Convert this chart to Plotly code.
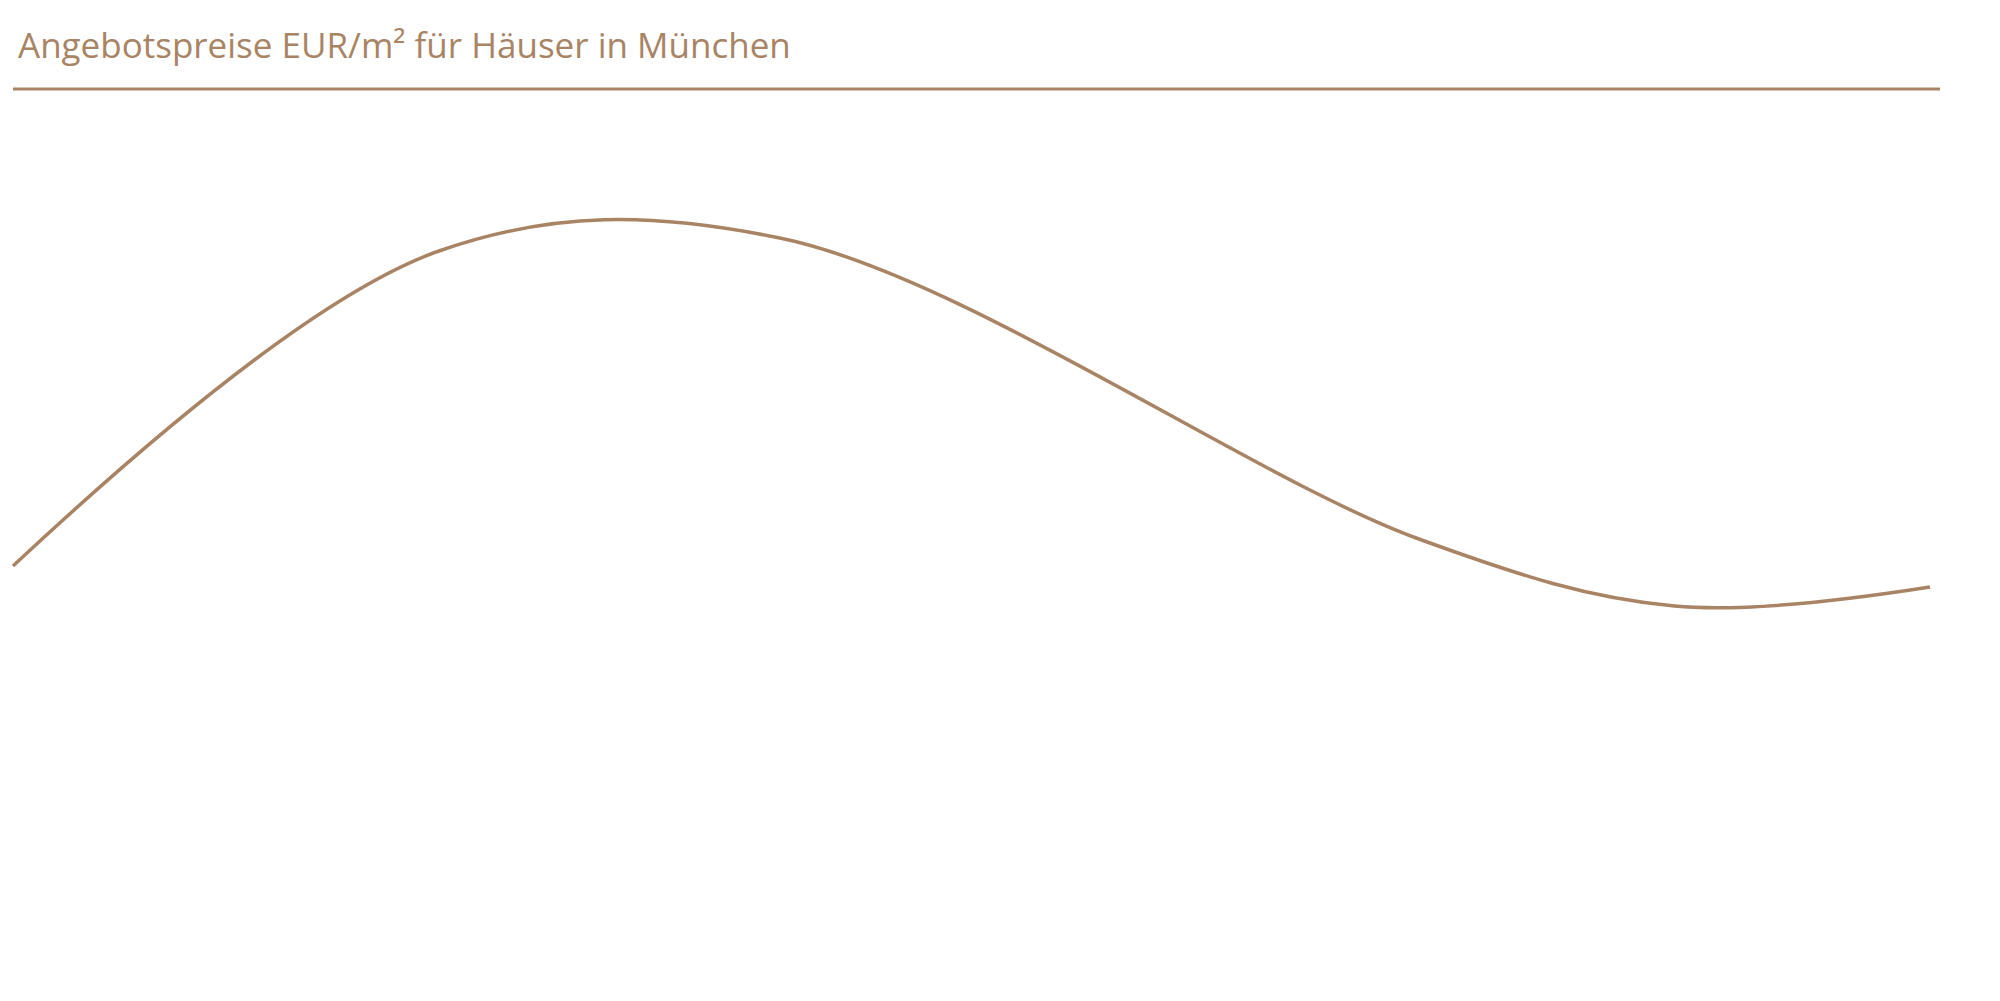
import plotly.graph_objects as go

# Quartale seit Beginn der Reihe, Angebotspreise in EUR/m²
quartal = [0, 10, 18, 33, 39, 45]
preis = [8720, 11870, 12000, 8990, 8320, 8510]

farbe = "#a88464"

fig = go.Figure()
fig.add_trace(go.Scatter(
    x=quartal, y=preis, mode="lines",
    line=dict(color=farbe, width=3.5, shape="spline", smoothing=1.0),
    hoverinfo="skip", showlegend=False
))

fig.update_layout(
    width=2000, height=1001,
    margin=dict(l=0, r=0, t=0, b=0),
    paper_bgcolor="white", plot_bgcolor="white",
    xaxis=dict(visible=False, range=[-0.117, 46.83]),
    yaxis=dict(visible=False, range=[4290, 14300]),
    annotations=[dict(
        text="Angebotspreise EUR/m² für Häuser in München",
        x=8, y=1001 - 60, xref="paper", yref="paper",
        xanchor="left", yanchor="bottom", showarrow=False,
        font=dict(family="Open Sans", size=35, color=farbe)
    )],
    shapes=[dict(
        type="line", xref="paper", yref="paper",
        x0=5 / 2000, x1=1932 / 2000, y0=1 - 81 / 1001, y1=1 - 81 / 1001,
        line=dict(color=farbe, width=3)
    )]
)
# annotation position in paper coords
fig.layout.annotations[0].x = 8 / 2000
fig.layout.annotations[0].y = 1 - 62 / 1001

fig.write_html("out.html")
